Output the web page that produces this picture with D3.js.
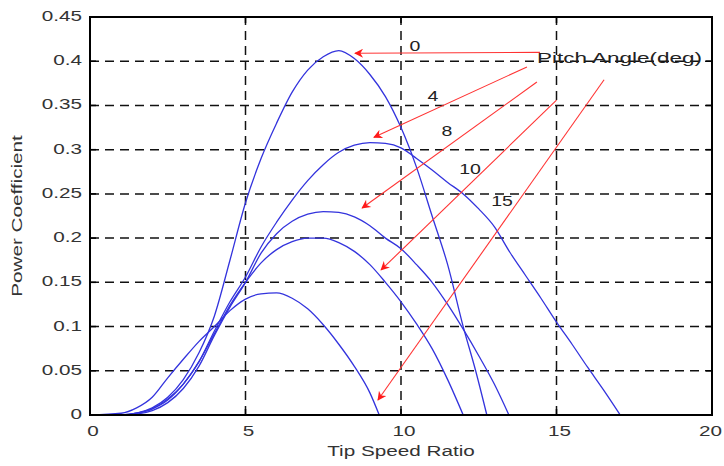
<!DOCTYPE html>
<html>
<head>
<meta charset="utf-8">
<script src="https://cdn.jsdelivr.net/npm/d3@7"></script>
<style>
  html, body { margin: 0; padding: 0; background: #fff; }
  svg { display: block; font-family: "Liberation Sans", Arial, sans-serif; }
</style>
</head>
<body>
<svg id="chart" width="724" height="466"></svg>
<script>
// ---- Data ----
const xTicks = [0, 5, 10, 15, 20];
const yTicks = [0, 0.05, 0.1, 0.15, 0.2, 0.25, 0.3, 0.35, 0.4, 0.45];
const xTickLabels = ["0", "5", "10", "15", "20"];
const yTickLabels = ["0", "0.05", "0.1", "0.15", "0.2", "0.25", "0.3", "0.35", "0.4", "0.45"];
const xLabel = "Tip Speed Ratio";
const yLabel = "Power Coefficient";

const pitchAngles = [0, 4, 8, 10, 15];

const tsr0  = [0, 1, 1.5, 2, 2.5, 3, 3.5, 4, 4.5, 5, 5.5, 6, 6.5, 7, 7.5, 8, 8.5, 9, 9.5, 10, 10.5, 11, 11.5, 12, 12.4, 12.76];
const cp0   = [0, 0, 0.002, 0.008, 0.02, 0.04, 0.07, 0.112, 0.175, 0.24, 0.29, 0.33, 0.365, 0.39, 0.405, 0.412, 0.403, 0.385, 0.36, 0.325, 0.28, 0.225, 0.17, 0.1, 0.05, 0];

const tsr4  = [0, 1, 1.5, 2, 2.5, 3, 3.5, 4, 4.5, 5, 5.5, 6, 6.5, 7, 7.5, 8, 8.5, 9, 9.5, 10, 10.5, 11, 11.5, 12, 12.5, 13, 13.5, 14, 14.5, 15, 15.5, 16, 16.5, 17.05];
const cp4   = [0, 0, 0.002, 0.007, 0.017, 0.035, 0.06, 0.095, 0.128, 0.156, 0.19, 0.218, 0.243, 0.265, 0.283, 0.297, 0.305, 0.308, 0.307, 0.302, 0.29, 0.277, 0.263, 0.25, 0.233, 0.213, 0.184, 0.158, 0.132, 0.105, 0.08, 0.054, 0.029, 0];

const tsr8  = [0, 1, 1.5, 2, 2.5, 3, 3.5, 4, 4.5, 5, 5.5, 6, 6.5, 7, 7.5, 8, 8.5, 9, 9.5, 10, 10.5, 11, 11.5, 12, 12.5, 13, 13.47];
const cp8   = [0, 0, 0.001, 0.005, 0.014, 0.03, 0.055, 0.09, 0.122, 0.15, 0.183, 0.205, 0.219, 0.227, 0.23, 0.229, 0.224, 0.214, 0.2, 0.188, 0.17, 0.15, 0.125, 0.097, 0.067, 0.035, 0];

const tsr10 = [0, 1, 1.5, 2, 2.5, 3, 3.5, 4, 4.5, 5, 5.5, 6, 6.5, 7, 7.5, 8, 8.5, 9, 9.5, 10, 10.5, 11, 11.5, 12.0];
const cp10  = [0, 0, 0.002, 0.007, 0.018, 0.035, 0.06, 0.092, 0.124, 0.15, 0.172, 0.187, 0.196, 0.2, 0.2, 0.195, 0.185, 0.17, 0.15, 0.128, 0.103, 0.075, 0.04, 0];

const tsr15 = [0, 1, 1.5, 2, 2.5, 3, 3.5, 4, 4.5, 5, 5.5, 6, 6.5, 7, 7.5, 8, 8.5, 9, 9.3];
const cp15  = [0, 0.002, 0.008, 0.02, 0.042, 0.063, 0.083, 0.1, 0.118, 0.131, 0.137, 0.138, 0.132, 0.12, 0.102, 0.08, 0.055, 0.025, 0];

// annotation arrows (data units): start -> tip
const arrowLabels = ["0", "4", "8", "10", "15"];
const arrowStartX = [14.47, 14.05, 14.37, 15.0, 16.53];
const arrowStartY = [0.41, 0.3935, 0.3765, 0.356, 0.379];
const arrowTipX   = [8.52, 9.13, 8.75, 9.36, 9.26];
const arrowTipY   = [0.409, 0.314, 0.234, 0.164, 0.017];
const labelX      = [10.45, 11.03, 11.48, 12.22, 13.25];
const labelY      = [0.416, 0.36, 0.32, 0.277, 0.241];
const legendTitle = "Pitch Angle(deg)";
const legendTitleX = 14.37, legendTitleY = 0.402;

// ---- Layout ----
const svg = d3.select("#chart");
const margin = { left: 90, top: 17, right: 12, bottom: 51 };
const W = 724, H = 466;
const x = d3.scaleLinear().domain([0, 20]).range([margin.left, W - margin.right]);
const y = d3.scaleLinear().domain([0, 0.45]).range([H - margin.bottom, margin.top]);
const SX = 1.38; // horizontal stretch of the original's glyphs

function addText(g, px, py, str, opts) {
  const o = Object.assign({ size: 15, anchor: "middle", fill: "#333", rotate: 0, sx: SX }, opts || {});
  return g.append("text")
    .attr("transform", `translate(${px},${py}) rotate(${o.rotate}) scale(${o.sx},1)`)
    .attr("text-anchor", o.anchor).attr("dominant-baseline", "middle")
    .attr("font-size", o.size).attr("fill", o.fill).text(str);
}

svg.append("defs").append("marker")
  .attr("id", "arrowhead").attr("viewBox", "0 0 10 10")
  .attr("refX", 9).attr("refY", 5)
  .attr("markerWidth", 11).attr("markerHeight", 9)
  .attr("markerUnits", "userSpaceOnUse")
  .attr("orient", "auto")
  .append("path").attr("d", "M0,0 L10,5 L0,10 L3,5 Z").attr("fill", "#ff1a1a");

// Grid (dashed)
const grid = svg.append("g").attr("stroke", "#111").attr("stroke-width", 1.5).attr("stroke-dasharray", "9,6");
grid.selectAll("line.gx").data(xTicks.slice(1, -1)).join("line")
  .attr("x1", d => x(d)).attr("x2", d => x(d)).attr("y1", y(0)).attr("y2", y(0.45));
grid.selectAll("line.gy").data(yTicks.slice(1, -1)).join("line")
  .attr("y1", d => y(d)).attr("y2", d => y(d)).attr("x1", x(0)).attr("x2", x(20));

// Curves
const series = [
  { beta: pitchAngles[0], xs: tsr0, ys: cp0 },
  { beta: pitchAngles[1], xs: tsr4, ys: cp4 },
  { beta: pitchAngles[2], xs: tsr8, ys: cp8 },
  { beta: pitchAngles[3], xs: tsr10, ys: cp10 },
  { beta: pitchAngles[4], xs: tsr15, ys: cp15 }
];
const line = d3.line().x(d => x(d[0])).y(d => y(d[1])).curve(d3.curveMonotoneX);
svg.append("g").selectAll("path").data(series).join("path")
  .attr("d", s => line(s.xs.map((v, i) => [v, s.ys[i]])))
  .attr("fill", "none").attr("stroke", "#3333dd").attr("stroke-width", 1.3);

// Arrows
const arrows = svg.append("g");
arrowLabels.forEach((lab, i) => {
  arrows.append("line")
    .attr("x1", x(arrowStartX[i])).attr("y1", y(arrowStartY[i]))
    .attr("x2", x(arrowTipX[i])).attr("y2", y(arrowTipY[i]))
    .attr("stroke", "#ff3333").attr("stroke-width", 1.1)
    .attr("marker-end", "url(#arrowhead)");
  addText(arrows, x(labelX[i]), y(labelY[i]), lab, { fill: "#222", sx: 1.3 });
});
addText(svg, x(legendTitleX), y(legendTitleY), legendTitle, { anchor: "start", fill: "#222", sx: 1.5 });

// Axes box
svg.append("rect").attr("x", x(0)).attr("y", y(0.45))
  .attr("width", x(20) - x(0)).attr("height", y(0) - y(0.45))
  .attr("fill", "none").attr("stroke", "#000").attr("stroke-width", 2);

// Ticks (inward)
const tk = svg.append("g").attr("stroke", "#000").attr("stroke-width", 1.5);
xTicks.forEach(t => {
  tk.append("line").attr("x1", x(t)).attr("x2", x(t)).attr("y1", y(0)).attr("y2", y(0) - 6);
  tk.append("line").attr("x1", x(t)).attr("x2", x(t)).attr("y1", y(0.45)).attr("y2", y(0.45) + 6);
});
yTicks.forEach(t => {
  tk.append("line").attr("y1", y(t)).attr("y2", y(t)).attr("x1", x(0)).attr("x2", x(0) + 6);
  tk.append("line").attr("y1", y(t)).attr("y2", y(t)).attr("x1", x(20)).attr("x2", x(20) - 6);
});

// Tick labels
const xt = svg.append("g");
xTicks.forEach((t, i) => {
  const last = i === xTicks.length - 1;
  addText(xt, last ? W - 2 : x(t) + 3, y(0) + 17, xTickLabels[i], { anchor: last ? "end" : "middle" });
});
const yt = svg.append("g");
yTicks.forEach((t, i) => addText(yt, x(0) - 8, y(t), yTickLabels[i], { anchor: "end" }));

// Axis labels
addText(svg, (x(0) + x(20)) / 2, 452, xLabel, { size: 15, sx: 1.38 });
addText(svg, 18, 216, yLabel, { size: 15, rotate: -90, sx: 1.38 });
</script>
</body>
</html>
